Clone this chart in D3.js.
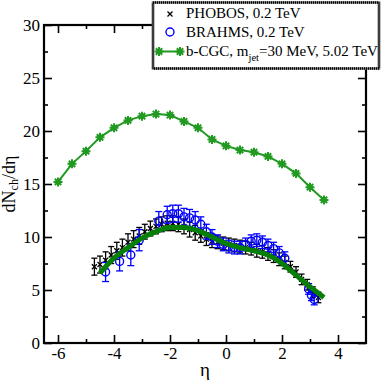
<!DOCTYPE html>
<html>
<head>
<meta charset="UTF-8" />
<script src="https://d3js.org/d3.v7.min.js"></script>
<style>
  body { margin: 0; background: #fff; }
  svg, svg text { font-family: "Liberation Serif", serif !important; }
  .axis path, .axis line { stroke: #000; }
</style>
</head>
<body>
<svg width="382" height="382"></svg>
<script>
// ---- data ----
const cgcEta = [-6, -5.5, -5, -4.5, -4, -3.5, -3, -2.5, -2, -1.5, -1, -0.5, 0, 0.5, 1, 1.5, 2, 2.5, 3, 3.5];
const cgcVal = [15.2, 16.9, 18.1, 19.4, 20.3, 21.0, 21.4, 21.6, 21.5, 20.9, 20.3, 19.2, 18.6, 18.2, 18.0, 17.6, 16.9, 16.0, 14.7, 13.5];

// thick green curve (200 GeV calculation, no legend entry)
const curveEta = [-4.5, -4, -3.5, -3, -2.5, -2, -1.5, -1, -0.5, 0, 0.5, 1, 1.5, 2, 2.5, 3, 3.5];
const curveVal = [6.6, 8.0, 9.0, 9.9, 10.5, 10.9, 10.9, 10.6, 10.0, 9.4, 9.0, 8.7, 8.3, 7.5, 6.4, 5.3, 4.3];

const phobosEta = [-4.7, -4.5, -4.3, -4.1, -3.9, -3.7, -3.5, -3.3, -3.1, -2.9, -2.7, -2.5, -2.3, -2.1, -1.9, -1.7, -1.5, -1.3, -1.1, -0.9,
  -0.7, -0.5, -0.3, -0.1, 0.1, 0.3, 0.5, 0.7, 0.9, 1.1, 1.3, 1.5, 1.7, 1.9, 2.1, 2.3, 2.5, 2.7, 2.9, 3.1, 3.3];
const phobosVal = [7.2, 7.4, 7.8, 8.3, 8.7, 9.0, 9.5, 9.8, 10.1, 10.5, 10.8, 11.0, 11.2, 11.3, 11.3, 11.2, 11.0, 10.7, 10.4, 10.1,
  9.8, 9.6, 9.5, 9.4, 9.3, 9.2, 9.1, 9.0, 8.9, 8.7, 8.6, 8.4, 8.2, 7.9, 7.6, 7.2, 6.7, 6.0, 5.5, 4.8, 4.3];
const phobosErr = [0.8, 0.8, 0.8, 0.8, 0.8, 0.8, 0.8, 0.8, 0.8, 0.7, 0.7, 0.7, 0.7, 0.7, 0.7, 0.7, 0.7, 0.7, 0.7, 0.6,
  0.6, 0.6, 0.6, 0.6, 0.6, 0.6, 0.6, 0.6, 0.6, 0.6, 0.6, 0.6, 0.6, 0.6, 0.6, 0.5, 0.5, 0.5, 0.5, 0.5, 0.5];

const brahmsEta = [-4.3, -3.8, -3.4, -3.1, -2.4, -2.1, -1.9, -1.7, -1.5, -1.3, -1.1, -0.9, -0.7, -0.5, -0.3, -0.1,
  0.1, 0.3, 0.5, 0.7, 0.9, 1.1, 1.3, 1.5, 1.7, 1.9, 2.1, 2.95, 3.05, 3.15];
const brahmsVal = [6.7, 7.7, 8.3, 9.7, 11.5, 12.1, 12.2, 12.2, 11.9, 11.8, 11.6, 11.2, 10.5, 10.0, 9.6, 9.3,
  9.1, 9.0, 9.0, 9.3, 9.6, 9.7, 9.5, 9.2, 8.9, 8.5, 8.0, 5.1, 4.5, 4.1];
const brahmsErr = [0.9, 0.9, 1.0, 1.0, 0.9, 0.8, 0.8, 0.8, 0.8, 0.8, 0.8, 0.7, 0.7, 0.7, 0.6, 0.6,
  0.6, 0.6, 0.6, 0.6, 0.6, 0.6, 0.6, 0.6, 0.6, 0.6, 0.6, 0.5, 0.5, 0.5];

const xMajor = [-6, -4, -2, 0, 2, 4];
const xMinor = [-5, -3, -1, 1, 3];
const yMajor = [0, 5, 10, 15, 20, 25, 30];
const yMinor = [2.5, 7.5, 12.5, 17.5, 22.5, 27.5];

const legendLabels = ["PHOBOS, 0.2 TeV", "BRAHMS, 0.2 TeV"];

// ---- layout ----
const pl = 44, pr = 366, pt = 25, pb = 343;
const green = "#067f06", cgcGreen = "#229a22", blue = "#0000ff";

const x = d3.scaleLinear().domain([-6.5, 5]).range([pl, pr]);
const y = d3.scaleLinear().domain([0, 30]).range([pb, pt]);

const svg = d3.select("svg");

// axes: ticks point inward on all four sides
function addAxis(gen, tr, vals, size, labels) {
  const g = svg.append("g").attr("class", "axis").attr("transform", tr)
    .call(gen.tickValues(vals).tickSize(size).tickSizeOuter(0).tickPadding(4)
      .tickFormat(labels ? d3.format("d") : ""));
  g.attr("font-family", null).attr("font-size", null);
  g.select(".domain").remove();
  g.selectAll("line").attr("stroke-width", 1.6);
  g.selectAll("text").attr("font-size", 17).attr("fill", "#000");
  return g;
}
addAxis(d3.axisBottom(x), `translate(0,${pb})`, xMajor, -8, true);
addAxis(d3.axisBottom(x), `translate(0,${pb})`, xMinor, -4, false);
addAxis(d3.axisTop(x), `translate(0,${pt})`, xMajor, -8, false);
addAxis(d3.axisTop(x), `translate(0,${pt})`, xMinor, -4, false);
addAxis(d3.axisLeft(y), `translate(${pl},0)`, yMajor, -8, true);
addAxis(d3.axisLeft(y), `translate(${pl},0)`, yMinor, -4, false);
addAxis(d3.axisRight(y), `translate(${pr},0)`, yMajor, -8, false);
addAxis(d3.axisRight(y), `translate(${pr},0)`, yMinor, -4, false);

svg.selectAll(".axis text").filter(function () { return this.textContent.startsWith("−"); })
  .text(function () { return "-" + this.textContent.slice(1); });

svg.append("rect").attr("x", pl).attr("y", pt).attr("width", pr - pl).attr("height", pb - pt)
  .attr("fill", "none").attr("stroke", "#000").attr("stroke-width", 2.2);

// axis titles
svg.append("text").attr("x", (pl + pr) / 2).attr("y", 376).attr("text-anchor", "middle")
  .attr("font-size", 19).text("η");
const yt = svg.append("text").attr("transform", `translate(15,${(pt + pb) / 2}) rotate(-90)`)
  .attr("text-anchor", "middle").attr("font-size", 18);
yt.append("tspan").text("dN");
yt.append("tspan").attr("font-size", 12).attr("dy", 3).text("ch");
yt.append("tspan").attr("dy", -3).text("/dη");

const phobos = phobosEta.map((e, i) => ({ e, v: phobosVal[i], s: phobosErr[i] }));
const brahms = brahmsEta.map((e, i) => ({ e, v: brahmsVal[i], s: brahmsErr[i] }));

function errorBars(data, color, cap) {
  const g = svg.append("g").attr("stroke", color).attr("stroke-width", 1.3);
  data.forEach(d => {
    const cx = x(d.e), y1 = y(d.v + d.s), y2 = y(d.v - d.s);
    g.append("line").attr("x1", cx).attr("x2", cx).attr("y1", y1).attr("y2", y2);
    g.append("line").attr("x1", cx - cap).attr("x2", cx + cap).attr("y1", y1).attr("y2", y1);
    g.append("line").attr("x1", cx - cap).attr("x2", cx + cap).attr("y1", y2).attr("y2", y2);
  });
}

// PHOBOS: error bars + crosses
errorBars(phobos, "#000", 3);
svg.append("g").selectAll("path").data(phobos).join("path")
  .attr("d", "M-2.5,-2.5L2.5,2.5M-2.5,2.5L2.5,-2.5")
  .attr("transform", d => `translate(${x(d.e)},${y(d.v)})`)
  .attr("stroke", "#000").attr("stroke-width", 1.3);

// BRAHMS: error bars + open circles
errorBars(brahms, blue, 3.5);
svg.append("g").selectAll("circle").data(brahms).join("circle")
  .attr("cx", d => x(d.e)).attr("cy", d => y(d.v)).attr("r", 4)
  .attr("fill", "none").attr("stroke", blue).attr("stroke-width", 1.4);

// thick green curve
const curvePts = curveEta.map((e, i) => [x(e), y(curveVal[i])]);
svg.append("path").attr("d", d3.line().curve(d3.curveMonotoneX)(curvePts))
  .attr("fill", "none").attr("stroke", green).attr("stroke-width", 5);

// b-CGC 5.02 TeV line with asterisk markers
const cgcPts = cgcEta.map((e, i) => [x(e), y(cgcVal[i])]);
svg.append("path").attr("d", d3.line()(cgcPts))
  .attr("fill", "none").attr("stroke", cgcGreen).attr("stroke-width", 2);

function asterisk(g, cx, cy) {
  const r = 4.5;
  let d = "";
  for (let k = 0; k < 4; k++) {
    const a = k * Math.PI / 4;
    d += `M${-r * Math.cos(a)},${-r * Math.sin(a)}L${r * Math.cos(a)},${r * Math.sin(a)}`;
  }
  g.append("path").attr("d", d).attr("transform", `translate(${cx},${cy})`)
    .attr("stroke", cgcGreen).attr("stroke-width", 2);
  g.append("circle").attr("cx", cx).attr("cy", cy).attr("r", 2.5).attr("fill", cgcGreen);
}
const ag = svg.append("g");
cgcPts.forEach(p => asterisk(ag, p[0], p[1]));

// legend
const lg = svg.append("g");
lg.append("rect").attr("x", 153).attr("y", 2.5).attr("width", 226).attr("height", 66)
  .attr("fill", "#fff").attr("stroke", "#777").attr("stroke-width", 2.5);
lg.append("rect").attr("x", 153).attr("y", 2.5).attr("width", 226).attr("height", 66)
  .attr("fill", "none").attr("stroke", "#000").attr("stroke-width", 2.5).attr("stroke-dasharray", "1,1");

lg.append("path").attr("d", "M-2.5,-2.5L2.5,2.5M-2.5,2.5L2.5,-2.5")
  .attr("transform", "translate(170,14)").attr("stroke", "#000").attr("stroke-width", 1.3);
lg.append("circle").attr("cx", 170).attr("cy", 32).attr("r", 4).attr("fill", "none")
  .attr("stroke", blue).attr("stroke-width", 1.4);
lg.append("line").attr("x1", 159).attr("x2", 180).attr("y1", 51.5).attr("y2", 51.5)
  .attr("stroke", cgcGreen).attr("stroke-width", 2);
asterisk(lg, 159, 51.5);
asterisk(lg, 180, 51.5);

legendLabels.forEach((t, i) => {
  lg.append("text").attr("x", 186).attr("y", 18 + i * 18.5).attr("font-size", 15).text(t);
});
const l3 = lg.append("text").attr("x", 186).attr("y", 55.5).attr("font-size", 15);
l3.append("tspan").text("b-CGC, m");
l3.append("tspan").attr("font-size", 10.5).attr("dy", 5).text("jet");
l3.append("tspan").attr("dy", -5).text("=30 MeV, 5.02 TeV");
</script>
</body>
</html>
